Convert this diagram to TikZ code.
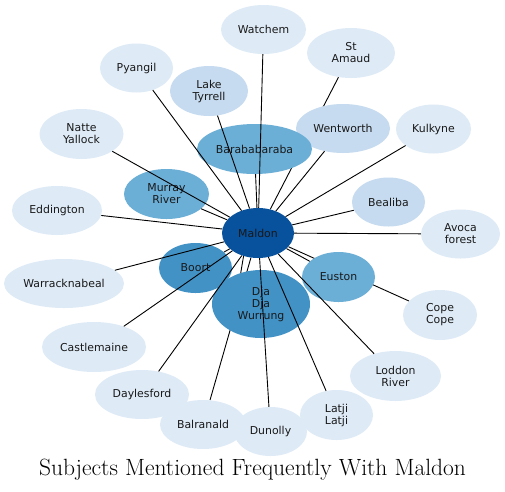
\documentclass[tikz,border=0pt]{standalone}
\usepackage{fontspec}
\newfontfamily\labfont{DejaVu Sans}
\usetikzlibrary{shapes.geometric}
\pgfdeclarelayer{bg}
\pgfsetlayers{bg,main}
\definecolor{cA}{HTML}{DEEBF7}
\definecolor{cB}{HTML}{C6DBEF}
\definecolor{cC}{HTML}{6BAED6}
\definecolor{cD}{HTML}{4292C6}
\definecolor{cE}{HTML}{08519C}
\tikzset{
  place/.style={ellipse, draw=none, inner sep=0pt, align=center,
    font=\labfont\fontsize{10.9}{12}\selectfont, text=black!90},
  link/.style={draw=black, line width=0.9pt},
  titletext/.style={font=\fontsize{23.5}{26}\selectfont, anchor=base, inner sep=0pt},
}
\begin{document}
\begin{tikzpicture}[x=1pt,y=-1pt]
\begin{pgfonlayer}{bg}
\fill[white] (0,0) rectangle (505,491);
\end{pgfonlayer}
\useasboundingbox (0,0) rectangle (505,491);
% light nodes
\node[place, fill=cA, minimum width=85pt, minimum height=49pt] (watchem) at (263.5,29.5) {Watchem};
\node[place, fill=cA, minimum width=88pt, minimum height=50pt] (stamaud) at (351,53) {St\\Amaud};
\node[place, fill=cA, minimum width=73pt, minimum height=49pt] (pyangil) at (136.5,68) {Pyangil};
\node[place, fill=cA, minimum width=84pt, minimum height=50pt] (natte) at (81.5,134) {Natte\\Yallock};
\node[place, fill=cA, minimum width=75pt, minimum height=49pt] (kulkyne) at (433.5,129) {Kulkyne};
\node[place, fill=cA, minimum width=90pt, minimum height=49pt] (eddington) at (57,210.5) {Eddington};
\node[place, fill=cA, minimum width=79pt, minimum height=49pt] (avoca) at (460.5,234) {Avoca\\forest};
\node[place, fill=cA, minimum width=120pt, minimum height=49pt] (warrack) at (64,283.5) {Warracknabeal};
\node[place, fill=cA, minimum width=74pt, minimum height=50pt] (cope) at (440,315) {Cope\\Cope};
\node[place, fill=cA, minimum width=104pt, minimum height=50pt] (castle) at (94,347) {Castlemaine};
\node[place, fill=cA, minimum width=91pt, minimum height=50pt] (loddon) at (395.5,376) {Loddon\\River};
\node[place, fill=cA, minimum width=94pt, minimum height=49pt] (daylesford) at (142,394.5) {Daylesford};
\node[place, fill=cA, minimum width=86pt, minimum height=49pt] (balranald) at (203,424.5) {Balranald};
\node[place, fill=cA, minimum width=73pt, minimum height=49pt] (dunolly) at (270.5,431.5) {Dunolly};
\node[place, fill=cA, minimum width=73pt, minimum height=50pt] (latji) at (336.5,415) {Latji\\Latji};
% mid nodes
\node[place, fill=cB, minimum width=78pt, minimum height=50pt] (tyrrell) at (209,91) {Lake\\Tyrrell};
\node[place, fill=cB, minimum width=94pt, minimum height=49pt] (wentworth) at (343,128.5) {Wentworth};
\node[place, fill=cB, minimum width=73pt, minimum height=49pt] (bealiba) at (388.5,202) {Bealiba};
\node[place, fill=cC, minimum width=115pt, minimum height=50pt] (baraba) at (254.5,149) {Barababaraba};
\node[place, fill=cC, minimum width=85pt, minimum height=50pt] (murray) at (166.5,194) {Murray\\River};
\node[place, fill=cD, minimum width=73pt, minimum height=50pt] (boort) at (195.5,268) {Boort};
\node[place, fill=cD, minimum width=98pt, minimum height=68pt] (djadja) at (261,304) {Dja\\Dja\\Wurrung};
\node[place, fill=cC, minimum width=73pt, minimum height=50pt] (euston) at (338.5,277) {Euston};
\node[place, fill=cE, minimum width=72pt, minimum height=50pt] (maldon) at (258,233) {Maldon};
% edges hidden behind other nodes
\begin{pgfonlayer}{bg}
\draw[link] (maldon) -- (stamaud);
\draw[link] (maldon) -- (balranald);
\draw[link] (maldon) -- (cope);
\end{pgfonlayer}
% edges on top
\foreach \t in {watchem,pyangil,tyrrell,natte,baraba,wentworth,kulkyne,murray,eddington,bealiba,avoca,boort,euston,warrack,castle,loddon,daylesford,latji,dunolly}
  \draw[link] (maldon) -- (\t);
\draw[link] (maldon.238) -- (djadja.123);
% title
\node[titletext] (title) at (252.5,475) {Subjects Mentioned Frequently With Maldon};
\end{tikzpicture}
\end{document}
